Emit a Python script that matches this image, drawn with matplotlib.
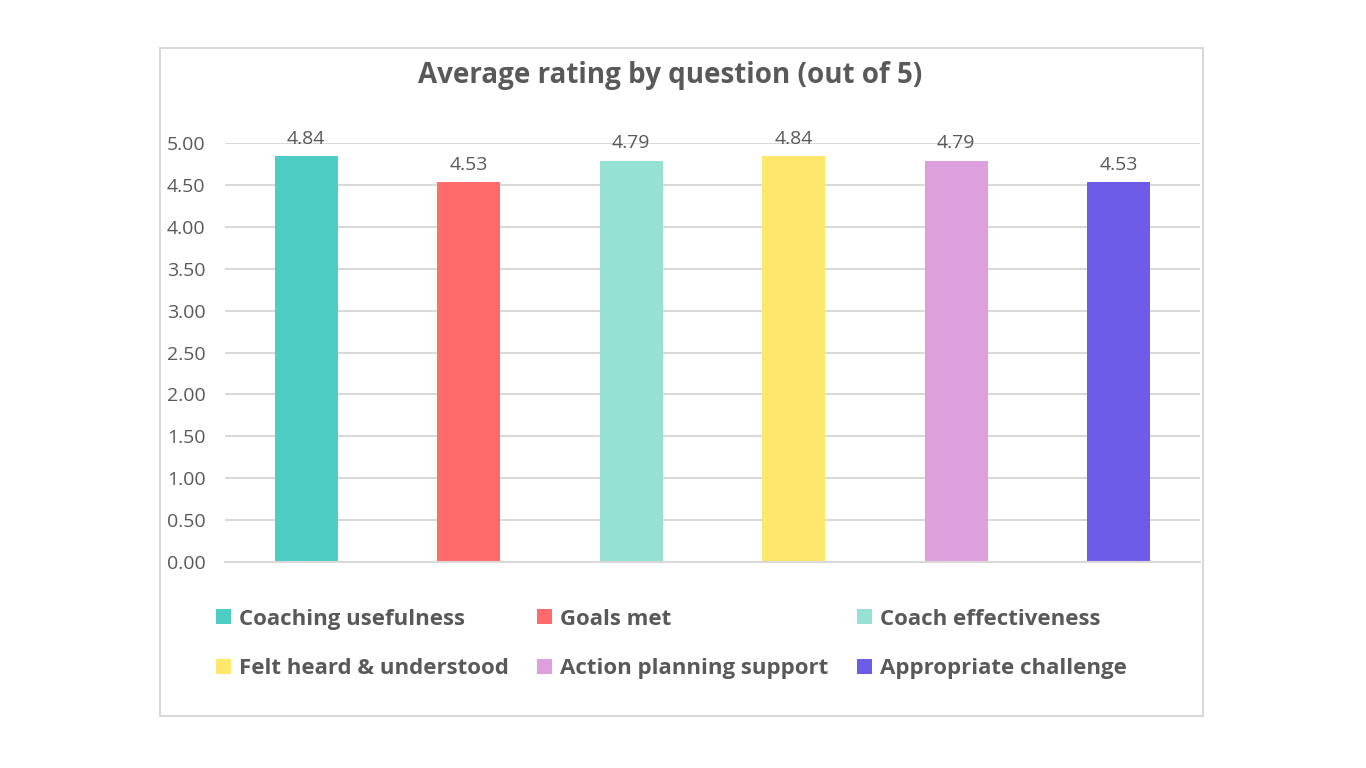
import matplotlib.pyplot as plt
from matplotlib.patches import Rectangle, Patch

# data
questions = ['Coaching usefulness', 'Goals met', 'Coach effectiveness',
             'Felt heard & understood', 'Action planning support', 'Appropriate challenge']
ratings = [4.84, 4.53, 4.79, 4.84, 4.79, 4.53]
colours = ['#4ECDC4', '#FF6B6B', '#95E1D3', '#FFE66D', '#DDA0DD', '#6C5CE7']
yticks = [0, 0.5, 1, 1.5, 2, 2.5, 3, 3.5, 4, 4.5, 5]

plt.rcParams['font.family'] = ['Open Sans', 'DejaVu Sans']
grey = '#595959'

fig = plt.figure(figsize=(13.66, 7.68), dpi=100)

# outer chart frame
W, H = 1366, 768
fig.patches.append(Rectangle((160 / W, 1 - 716 / H), (1203 - 160) / W, (716 - 48) / H,
                             transform=fig.transFigure, fill=False, edgecolor='#D9D9D9', lw=1.5))

ax = fig.add_axes([225 / W, 1 - 562 / H, (1200 - 225) / W, (562 - 143) / H])
x = range(len(questions))
bars = ax.bar(x, ratings, width=0.39, color=colours, zorder=3)

for bar, v in zip(bars, ratings):
    ax.annotate('{:.2f}'.format(v), (bar.get_x() + bar.get_width() / 2, v),
                xytext=(0, 6), textcoords='offset points', ha='center', va='bottom',
                fontsize=14, color=grey)

ax.set_xlim(-0.5, len(questions) - 0.5)
ax.set_ylim(0, 5)
ax.set_yticks(yticks)
ax.set_yticklabels(['{:.2f}'.format(t) for t in yticks])
ax.set_xticks([])
ax.tick_params(axis='y', length=0, pad=14, labelsize=14, labelcolor=grey)
ax.grid(axis='y', color='#D9D9D9', lw=1.5, zorder=0)
ax.set_axisbelow(True)
for side in ['top', 'right', 'left']:
    ax.spines[side].set_visible(False)
ax.spines['bottom'].set_color('#D9D9D9')
ax.spines['bottom'].set_linewidth(1.5)
ax.spines['bottom'].set_zorder(4)

fig.text(670 / W, 1 - 76 / H, 'Average rating by question (out of 5)', ha='center', va='center',
         fontsize=20, fontweight='bold', color=grey)

# legend filled row by row
handles = [Patch(facecolor=c, label=q) for c, q in zip(colours, questions)]
order = [0, 3, 1, 4, 2, 5]
leg = fig.legend([handles[i] for i in order], [questions[i] for i in order],
                 ncol=3, loc='center left', bbox_to_anchor=(216 / W, 1 - 644 / H),
                 frameon=False, prop={'weight': 'bold', 'size': 16},
                 handlelength=0.67, handleheight=0.67, handletextpad=0.35,
                 columnspacing=1.3, labelspacing=1.3, borderaxespad=0, borderpad=0)
for t in leg.get_texts():
    t.set_color(grey)

fig.savefig('out.png', dpi=100)
